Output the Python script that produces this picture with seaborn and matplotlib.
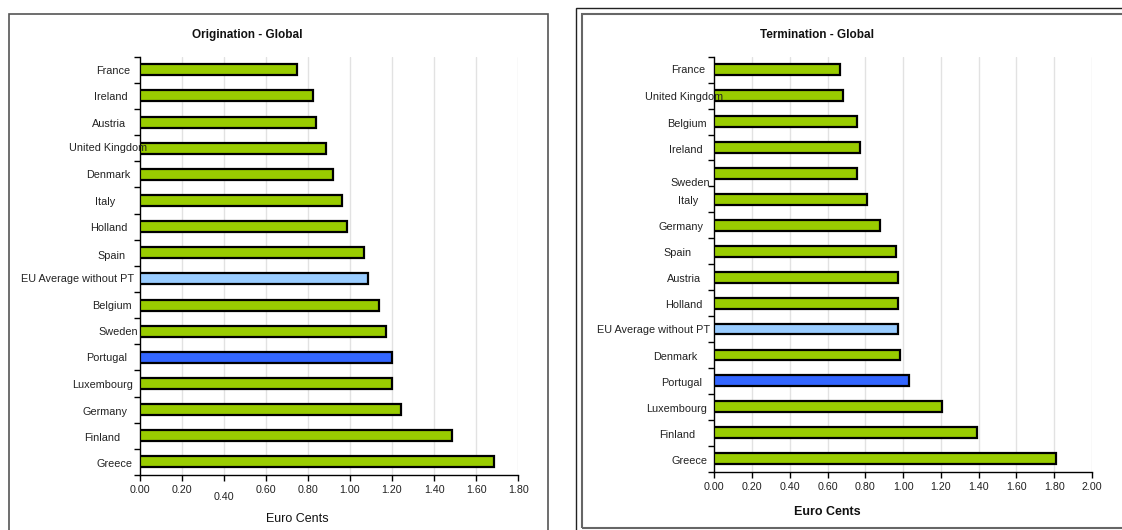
import matplotlib
matplotlib.use("Agg")
import matplotlib.pyplot as plt
import matplotlib.transforms as mtransforms
from matplotlib.patches import Rectangle
import seaborn as sns

# ---- data ----
orig_countries = ["France", "Ireland", "Austria", "United Kingdom", "Denmark", "Italy",
                  "Holland", "Spain", "EU Average without PT", "Belgium", "Sweden",
                  "Portugal", "Luxembourg", "Germany", "Finland", "Greece"]
orig_values = [0.746, 0.824, 0.841, 0.885, 0.919, 0.963, 0.987, 1.068, 1.085,
               1.136, 1.172, 1.199, 1.199, 1.243, 1.487, 1.687]

term_countries = ["France", "United Kingdom", "Belgium", "Ireland", "Sweden", "Italy",
                  "Germany", "Spain", "Austria", "Holland", "EU Average without PT",
                  "Denmark", "Portugal", "Luxembourg", "Finland", "Greece"]
term_values = [0.664, 0.683, 0.758, 0.769, 0.758, 0.808, 0.876, 0.962, 0.972,
               0.974, 0.974, 0.984, 1.031, 1.205, 1.390, 1.807]

orig_ticks = [0.0, 0.2, 0.4, 0.6, 0.8, 1.0, 1.2, 1.4, 1.6, 1.8]
term_ticks = [0.0, 0.2, 0.4, 0.6, 0.8, 1.0, 1.2, 1.4, 1.6, 1.8, 2.0]

GREEN = "#99CC00"
LIGHT_BLUE = "#99CCFF"
BLUE = "#3366FF"

# label nudges in pixels (right end relative to the axis line, vertical shift)
orig_label_dx = [-9, -12, -13, 8, -9, -24, -12, -14, -5, -8, -2, -12, -7, -12, -19, -7]
orig_label_dy = [1, 1, 2, 0, 1, 2, 1, 3, 0, 1, 1, 1, 2, 2, 2, 2]
term_label_dx = [-9, 9, -8, -12, -4, -16, -11, -23, -13, -12, -4, -17, -12, -7, -19, -7]
term_label_dy = [0, 1, 2, 3, 10, 2, 2, 2, 2, 2, 1, 2, 2, 2, 2, 2]

W, H = 1122, 530
sns.set_theme(style="white")
plt.rcParams["font.family"] = ["Liberation Sans", "DejaVu Sans"]

fig = plt.figure(figsize=(W / 100, H / 100), dpi=100)
fig.patch.set_facecolor("white")


def bar_color(name):
    if name == "Portugal":
        return BLUE
    if name.startswith("EU Average"):
        return LIGHT_BLUE
    return GREEN


def panel(rect_px, countries, values, ticks, xmax, dxs, dys):
    x0, y0, x1, y1 = rect_px
    ax = fig.add_axes([x0 / W, 1 - y1 / H, (x1 - x0) / W, (y1 - y0) / H])
    palette = {c: bar_color(c) for c in countries}
    sns.barplot(x=values, y=countries, hue=countries, palette=palette, orient="h",
                width=0.42, edgecolor="black", linewidth=1.6, legend=False,
                saturation=1, ax=ax, zorder=3)
    ax.set_xlim(0, xmax)
    ax.set_ylim(len(countries) - 0.5, -0.5)
    ax.set_xticks(ticks)
    ax.set_xticklabels([f"{t:.2f}" for t in ticks], fontsize=7.7, color="#222222")
    ax.set_yticks([i - 0.5 for i in range(len(countries) + 1)])
    ax.set_yticklabels([])
    ax.tick_params(axis="both", direction="out", length=4, width=1, color="black",
                   bottom=True, left=True)
    ax.tick_params(axis="x", pad=3.5)
    ax.set_xlabel("")
    ax.set_ylabel("")
    ax.grid(False)
    for t in ticks[1:]:
        ax.axvline(t, color="#e2e2e2", lw=1, zorder=0)
    for s in ["top", "right"]:
        ax.spines[s].set_visible(False)
    for s in ["left", "bottom"]:
        ax.spines[s].set_color("black")
        ax.spines[s].set_linewidth(1)
    ax.set_facecolor("white")
    base = ax.get_yaxis_transform()
    for i, name in enumerate(countries):
        tr = mtransforms.offset_copy(base, fig=fig, x=dxs[i], y=-dys[i], units="dots")
        ax.text(0, i, name, transform=tr, ha="right", va="center",
                fontsize=7.8, color="#222222")
    return ax


ax1 = panel((139.6, 56.7, 518.2, 475), orig_countries, orig_values,
            orig_ticks, 1.8, orig_label_dx, orig_label_dy)
ax2 = panel((714.3, 56.7, 1092, 471.7), term_countries, term_values,
            term_ticks, 2.0, term_label_dx, term_label_dy)

# the 0.40 label sits a little lower on the origination axis
ax1.xaxis.get_major_ticks()[2].set_pad(8)

fig.text(247 / W, 1 - 35 / H, "Origination - Global", ha="center", va="center",
         fontsize=8.5, fontweight="bold", color="#111111")
fig.text(817 / W, 1 - 35 / H, "Termination - Global", ha="center", va="center",
         fontsize=8.5, fontweight="bold", color="#111111")
fig.text(297 / W, 1 - 519 / H, "Euro Cents", ha="center", va="center",
         fontsize=9, color="#111111")
fig.text(827 / W, 1 - 512 / H, "Euro Cents", ha="center", va="center",
         fontsize=9, fontweight="bold", color="#111111")

# chart frames
def frame(x0, y0, x1, y1, color, lw):
    fig.add_artist(Rectangle((x0 / W, 1 - y1 / H), (x1 - x0) / W, (y1 - y0) / H,
                             transform=fig.transFigure, fill=False,
                             edgecolor=color, linewidth=lw, clip_on=False))

frame(9, 14, 548, 560, "#555555", 1.2)
frame(576, 7.5, 1140, 560, "#222222", 1.0)
frame(582, 13.5, 1140, 528, "#666666", 1.5)

fig.savefig("out.png", dpi=100, facecolor="white")
